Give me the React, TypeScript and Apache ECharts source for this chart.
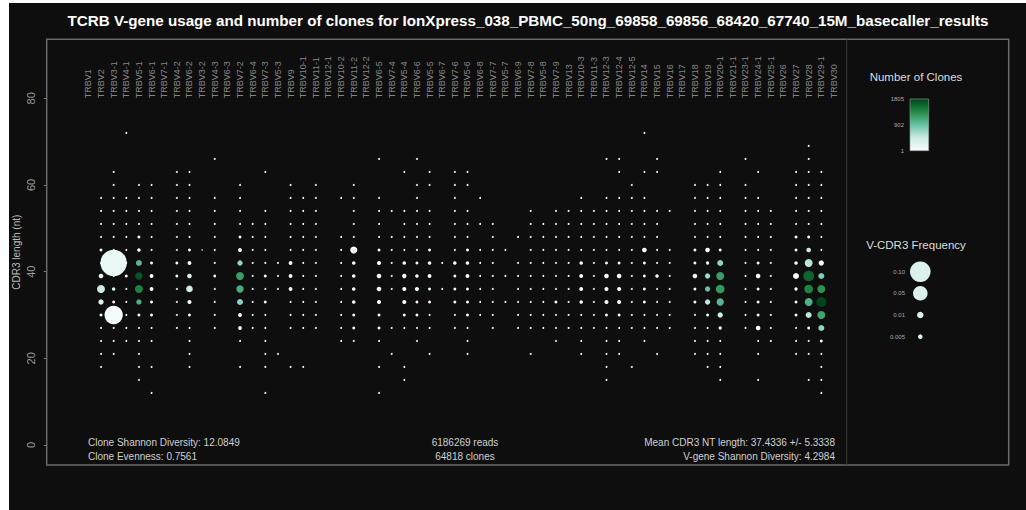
import React, { useEffect, useRef } from 'react';
import * as echarts from 'echarts';

const genes = [
  'TRBV1', 'TRBV2', 'TRBV3-1', 'TRBV4-1', 'TRBV5-1', 'TRBV6-1', 'TRBV7-1', 'TRBV4-2', 'TRBV6-2', 'TRBV3-2',
  'TRBV4-3', 'TRBV6-3', 'TRBV7-2', 'TRBV6-4', 'TRBV7-3', 'TRBV5-3', 'TRBV9', 'TRBV10-1', 'TRBV11-1', 'TRBV12-1',
  'TRBV10-2', 'TRBV11-2', 'TRBV12-2', 'TRBV6-5', 'TRBV7-4', 'TRBV5-4', 'TRBV6-6', 'TRBV5-5', 'TRBV6-7', 'TRBV7-6',
  'TRBV5-6', 'TRBV6-8', 'TRBV7-7', 'TRBV5-7', 'TRBV6-9', 'TRBV7-8', 'TRBV5-8', 'TRBV7-9', 'TRBV13', 'TRBV10-3',
  'TRBV11-3', 'TRBV12-3', 'TRBV12-4', 'TRBV12-5', 'TRBV14', 'TRBV15', 'TRBV16', 'TRBV17', 'TRBV18', 'TRBV19',
  'TRBV20-1', 'TRBV21-1', 'TRBV23-1', 'TRBV24-1', 'TRBV25-1', 'TRBV26', 'TRBV27', 'TRBV28', 'TRBV29-1', 'TRBV30',
];

// rare V-CDR3 combinations (all drawn as the same tiny white dot)
const tinyFreq = 0.0009;
const tinyClones = 5;
const tinyDots: Record<string, number[]> = {
  'TRBV2': [18, 21, 24, 27, 42, 48, 51, 54, 57],
  'TRBV3-1': [21, 24, 27, 39, 45, 48, 51, 54, 57, 60, 63],
  'TRBV4-1': [24, 27, 30, 33, 36, 42, 45, 48, 51, 54, 57, 72],
  'TRBV5-1': [15, 18, 21, 24, 27, 51, 54, 57, 60],
  'TRBV6-1': [12, 18, 24, 27, 45, 48, 51, 54, 57, 60],
  'TRBV4-2': [27, 30, 33, 36, 45, 48, 51, 54, 57, 60, 63],
  'TRBV6-2': [18, 21, 24, 27, 48, 51, 54, 57, 60, 63],
  'TRBV4-3': [27, 30, 33, 36, 42, 45, 48, 51, 54, 57, 66],
  'TRBV7-2': [18, 24, 51, 54, 57, 60],
  'TRBV6-4': [27, 30, 33, 36, 39, 42, 45, 48, 51],
  'TRBV7-3': [12, 18, 21, 24, 27, 30, 36, 42, 45, 48, 51, 54, 63],
  'TRBV5-3': [21, 36, 39, 42],
  'TRBV9': [18, 27, 30, 33, 45, 48, 51, 54, 57, 60],
  'TRBV10-1': [18, 27, 30, 33, 36, 39, 42, 45, 48, 51, 54, 57],
  'TRBV11-1': [27, 30, 33, 36, 39, 42, 45, 48, 51, 54, 57, 60],
  'TRBV10-2': [24, 27, 30, 33, 36, 39, 42, 45, 48, 57],
  'TRBV11-2': [24, 48, 51, 54, 57, 60],
  'TRBV6-5': [12, 18, 24, 48, 51, 54, 57, 66],
  'TRBV7-4': [21, 27, 36, 39, 42, 45, 48, 54],
  'TRBV5-4': [15, 18, 27, 45, 48, 51, 54, 63],
  'TRBV6-6': [24, 27, 45, 48, 51, 54, 57, 60, 66],
  'TRBV5-5': [21, 27, 30, 48, 51, 54, 60, 63],
  'TRBV6-7': [36, 42],
  'TRBV7-6': [27, 30, 45, 48, 51, 54, 57, 60, 63],
  'TRBV5-6': [21, 24, 27, 48, 51, 54, 60, 63],
  'TRBV6-8': [30, 33, 36, 39, 42, 45, 51, 57],
  'TRBV7-7': [27, 30, 33, 36, 39, 42, 45, 48, 51],
  'TRBV5-7': [33, 39, 45],
  'TRBV6-9': [27, 30, 33, 36, 39, 42, 48],
  'TRBV7-8': [21, 27, 30, 33, 36, 39, 42, 45, 48, 51, 54],
  'TRBV5-8': [27, 30, 33, 36, 39, 42, 45, 48, 51],
  'TRBV7-9': [24, 27, 30, 36, 39, 42, 45, 48, 51, 54],
  'TRBV13': [27, 30, 33, 36, 39, 42, 45, 48, 51, 54],
  'TRBV10-3': [21, 24, 27, 30, 45, 48, 51, 54, 57],
  'TRBV11-3': [27, 30, 33, 36, 39, 42, 45, 48, 51, 54],
  'TRBV12-3': [15, 18, 21, 24, 27, 45, 48, 51, 54, 57, 66],
  'TRBV12-4': [21, 24, 27, 45, 48, 51, 54, 57, 63, 66],
  'TRBV12-5': [18, 27, 30, 33, 36, 39, 42, 45, 48, 51, 54, 57, 60],
  'TRBV14': [24, 27, 30, 48, 51, 54, 57, 63, 72],
  'TRBV15': [21, 27, 30, 33, 36, 42, 45, 48, 51, 54, 63, 66],
  'TRBV16': [27, 30, 33, 36, 39, 42, 45, 54],
  'TRBV18': [21, 24, 27, 30, 48, 51, 54, 57, 60],
  'TRBV19': [18, 21, 24, 27, 48, 51, 54, 57, 60],
  'TRBV20-1': [15, 18, 21, 24, 48, 51, 54, 57, 60, 63],
  'TRBV23-1': [27, 30, 33, 36, 39, 42, 45, 48, 51, 54, 57, 60, 66],
  'TRBV24-1': [15, 21, 24, 45, 48, 51, 54, 57, 63],
  'TRBV25-1': [24, 27, 30, 33, 36, 39, 42, 45, 48, 51, 54],
  'TRBV27': [21, 24, 27, 51, 54, 57, 60, 63],
  'TRBV28': [15, 21, 24, 51, 54, 57, 60, 63, 66, 69],
  'TRBV29-1': [12, 15, 18, 21, 45, 48, 51, 54, 57, 60, 63],
};

// [gene, CDR3 length (nt), V-CDR3 frequency, number of clones]
const sizedDots: [string, number, number, number][] = [
  ['TRBV2', 45, 0.002, 20], ['TRBV2', 39, 0.0051, 250], ['TRBV2', 36, 0.015, 450], ['TRBV2', 33, 0.0067, 280], ['TRBV2', 30, 0.0021, 30],
  ['TRBV3-1', 42, 0.165, 150], ['TRBV3-1', 36, 0.003, 400], ['TRBV3-1', 33, 0.002, 20], ['TRBV3-1', 30, 0.079, 30],
  ['TRBV4-1', 39, 0.002, 20],
  ['TRBV5-1', 48, 0.002, 20], ['TRBV5-1', 45, 0.003, 40], ['TRBV5-1', 42, 0.0085, 1000], ['TRBV5-1', 39, 0.0127, 1700],
  ['TRBV5-1', 36, 0.015, 1400], ['TRBV5-1', 33, 0.0067, 1050], ['TRBV5-1', 30, 0.002, 30],
  ['TRBV6-1', 42, 0.002, 20], ['TRBV6-1', 39, 0.0034, 30], ['TRBV6-1', 36, 0.0034, 40], ['TRBV6-1', 33, 0.002, 20], ['TRBV6-1', 30, 0.002, 20],
  ['TRBV4-2', 42, 0.002, 20], ['TRBV4-2', 39, 0.002, 20],
  ['TRBV6-2', 45, 0.002, 20], ['TRBV6-2', 42, 0.0034, 40], ['TRBV6-2', 39, 0.005, 300], ['TRBV6-2', 36, 0.0104, 420], ['TRBV6-2', 33, 0.004, 60], ['TRBV6-2', 30, 0.002, 20],
  ['TRBV3-2', 45, 0.0005, 5],
  ['TRBV4-3', 39, 0.0018, 20],
  ['TRBV7-2', 48, 0.002, 20], ['TRBV7-2', 45, 0.0034, 40], ['TRBV7-2', 42, 0.0067, 700], ['TRBV7-2', 39, 0.015, 1200],
  ['TRBV7-2', 36, 0.0127, 1100], ['TRBV7-2', 33, 0.0085, 720], ['TRBV7-2', 30, 0.0034, 30], ['TRBV7-2', 27, 0.0034, 20],
  ['TRBV7-3', 39, 0.002, 20], ['TRBV7-3', 33, 0.002, 20],
  ['TRBV9', 42, 0.0034, 40], ['TRBV9', 39, 0.0034, 40], ['TRBV9', 36, 0.0034, 40],
  ['TRBV11-2', 45, 0.012, 30], ['TRBV11-2', 42, 0.003, 30], ['TRBV11-2', 39, 0.003, 30], ['TRBV11-2', 36, 0.003, 30],
  ['TRBV11-2', 33, 0.003, 30], ['TRBV11-2', 30, 0.002, 20], ['TRBV11-2', 27, 0.002, 20],
  ['TRBV6-5', 45, 0.002, 20], ['TRBV6-5', 42, 0.004, 40], ['TRBV6-5', 39, 0.005, 150], ['TRBV6-5', 36, 0.005, 100],
  ['TRBV6-5', 33, 0.004, 40], ['TRBV6-5', 30, 0.002, 20], ['TRBV6-5', 27, 0.002, 20],
  ['TRBV5-4', 42, 0.003, 30], ['TRBV5-4', 39, 0.0045, 100], ['TRBV5-4', 36, 0.004, 40], ['TRBV5-4', 33, 0.004, 40], ['TRBV5-4', 30, 0.002, 20],
  ['TRBV6-6', 42, 0.002, 20], ['TRBV6-6', 39, 0.003, 30], ['TRBV6-6', 36, 0.004, 80], ['TRBV6-6', 33, 0.002, 20], ['TRBV6-6', 30, 0.002, 20],
  ['TRBV5-5', 45, 0.002, 20], ['TRBV5-5', 42, 0.003, 30], ['TRBV5-5', 39, 0.0035, 40], ['TRBV5-5', 36, 0.002, 20], ['TRBV5-5', 33, 0.002, 20],
  ['TRBV7-6', 42, 0.003, 30], ['TRBV7-6', 39, 0.002, 20], ['TRBV7-6', 36, 0.002, 20], ['TRBV7-6', 33, 0.002, 20],
  ['TRBV5-6', 45, 0.002, 20], ['TRBV5-6', 42, 0.003, 30], ['TRBV5-6', 39, 0.0035, 40], ['TRBV5-6', 36, 0.002, 20],
  ['TRBV5-6', 33, 0.002, 20], ['TRBV5-6', 30, 0.002, 20],
  ['TRBV7-9', 33, 0.002, 20],
  ['TRBV10-3', 42, 0.003, 30], ['TRBV10-3', 39, 0.0035, 40], ['TRBV10-3', 36, 0.0035, 40], ['TRBV10-3', 33, 0.003, 30],
  ['TRBV12-3', 42, 0.002, 20], ['TRBV12-3', 39, 0.005, 60], ['TRBV12-3', 36, 0.004, 40], ['TRBV12-3', 33, 0.004, 40], ['TRBV12-3', 30, 0.002, 20],
  ['TRBV12-4', 42, 0.002, 20], ['TRBV12-4', 39, 0.005, 60], ['TRBV12-4', 36, 0.004, 40], ['TRBV12-4', 33, 0.004, 40], ['TRBV12-4', 30, 0.002, 20],
  ['TRBV14', 45, 0.005, 40], ['TRBV14', 42, 0.002, 20], ['TRBV14', 39, 0.002, 20], ['TRBV14', 36, 0.002, 20], ['TRBV14', 33, 0.002, 20],
  ['TRBV15', 39, 0.003, 30],
  ['TRBV18', 45, 0.002, 20], ['TRBV18', 42, 0.002, 20], ['TRBV18', 39, 0.005, 200], ['TRBV18', 36, 0.002, 20], ['TRBV18', 33, 0.002, 20],
  ['TRBV19', 45, 0.005, 40], ['TRBV19', 42, 0.0025, 200], ['TRBV19', 39, 0.0067, 650], ['TRBV19', 36, 0.0067, 900],
  ['TRBV19', 33, 0.0067, 500], ['TRBV19', 30, 0.002, 20],
  ['TRBV20-1', 45, 0.002, 20], ['TRBV20-1', 42, 0.0085, 700], ['TRBV20-1', 39, 0.015, 1200], ['TRBV20-1', 36, 0.0177, 1250],
  ['TRBV20-1', 33, 0.0127, 1000], ['TRBV20-1', 30, 0.0067, 450], ['TRBV20-1', 27, 0.0025, 30],
  ['TRBV24-1', 42, 0.002, 20], ['TRBV24-1', 39, 0.005, 40], ['TRBV24-1', 36, 0.002, 20], ['TRBV24-1', 33, 0.002, 20],
  ['TRBV24-1', 30, 0.002, 20], ['TRBV24-1', 27, 0.005, 40],
  ['TRBV27', 48, 0.002, 20], ['TRBV27', 45, 0.002, 20], ['TRBV27', 42, 0.003, 30], ['TRBV27', 39, 0.0085, 60],
  ['TRBV27', 36, 0.0025, 20], ['TRBV27', 33, 0.002, 20], ['TRBV27', 30, 0.002, 20],
  ['TRBV28', 48, 0.002, 20], ['TRBV28', 45, 0.005, 450], ['TRBV28', 42, 0.015, 550], ['TRBV28', 39, 0.0267, 1600],
  ['TRBV28', 36, 0.0177, 1400], ['TRBV28', 33, 0.015, 1050], ['TRBV28', 30, 0.0085, 500], ['TRBV28', 27, 0.002, 30],
  ['TRBV29-1', 42, 0.0067, 60], ['TRBV29-1', 39, 0.0085, 800], ['TRBV29-1', 36, 0.015, 1300], ['TRBV29-1', 33, 0.0235, 1805],
  ['TRBV29-1', 30, 0.015, 1150], ['TRBV29-1', 27, 0.0085, 700], ['TRBV29-1', 24, 0.002, 20],
];

const colorStops = ['#f7fcfd', '#ccece6', '#66c2a4', '#238b45', '#00441b'];
const cloneRange = [1, 1805];
const cloneTicks = [1805, 902, 1];
const freqLegend = [0.1, 0.05, 0.01, 0.005];
const freqLegendLabels = ['0.10', '0.05', '0.01', '0.005'];
const yTicks = [0, 20, 40, 60, 80];
const geneLabelY = 80;
const yAxisTitle = 'CDR3 length (nt)';
const statsLeft = ['Clone Shannon Diversity: 12.0849', 'Clone Evenness: 0.7561'];
const statsCenter = ['6186269 reads', '64818 clones'];
const statsRight = ['Mean CDR3 NT length: 37.4336 +/- 5.3338', 'V-gene Shannon Diversity: 4.2984'];
const titleText =
  'TCRB V-gene usage and number of clones for IonXpress_038_PBMC_50ng_69858_69856_68420_67740_15M_basecaller_results';

const FONT = '"Liberation Sans", Arial, Helvetica, sans-serif';
const BG = '#0e0e0e';
const SIZE_K = 65.2; // symbol diameter per sqrt(frequency)
const symSize = (f: number) => SIZE_K * Math.sqrt(f);

export default function App() {
  const ref = useRef<HTMLDivElement>(null);
  useEffect(() => {
    if (!ref.current) return;
    const chart = echarts.init(ref.current, undefined, { renderer: 'svg' });

    const sized = sizedDots.map(([g, nt, f, c]) => [genes.indexOf(g), nt, f, c]);
    const tiny: number[][] = [];
    Object.keys(tinyDots).forEach((g) => {
      tinyDots[g].forEach((nt) => tiny.push([genes.indexOf(g), nt, tinyFreq, tinyClones]));
    });

    // layout (px, chart-local)
    const gridL = 37.7, gridT = 36.3, gridW = 800, gridH = 425.7;
    const frameR = 999.7, frameB = gridT + gridH;
    const sepX = gridL + gridW;

    const barX = 901, barY = 96, barW = 18.7, barH = 51.7;
    const gradStops = colorStops.map((c, i) => ({ offset: i / (colorStops.length - 1), color: c }));
    const legendY = [268.7, 290.3, 312, 333.7];

    const graphics: any[] = [
      { type: 'rect', shape: { x: gridL, y: gridT, width: frameR - gridL, height: frameB - gridT }, style: { fill: 'none', stroke: '#6a6a6a', lineWidth: 1.5 }, z: 10 },
      { type: 'line', shape: { x1: sepX, y1: gridT, x2: sepX, y2: frameB }, style: { stroke: '#3a3a3a', lineWidth: 1 }, z: 10 },
      { type: 'text', x: 519, y: 17, style: { text: titleText, fill: '#ffffff', font: `bold 15.2px ${FONT}`, textAlign: 'center', textVerticalAlign: 'middle' } },
      {
        type: 'text', x: 7, y: gridT + gridH / 2, rotation: Math.PI / 2,
        style: { text: yAxisTitle, fill: '#bbbbbb', font: `10px ${FONT}`, textAlign: 'center', textVerticalAlign: 'middle' },
      },
      { type: 'text', x: 79, y: 439.7, style: { text: statsLeft[0], fill: '#d0d0d0', font: `10px ${FONT}`, textAlign: 'left', textVerticalAlign: 'middle' } },
      { type: 'text', x: 79, y: 453, style: { text: statsLeft[1], fill: '#d0d0d0', font: `10px ${FONT}`, textAlign: 'left', textVerticalAlign: 'middle' } },
      { type: 'text', x: 456, y: 439.7, style: { text: statsCenter[0], fill: '#d0d0d0', font: `10px ${FONT}`, textAlign: 'center', textVerticalAlign: 'middle' } },
      { type: 'text', x: 456, y: 453, style: { text: statsCenter[1], fill: '#d0d0d0', font: `10px ${FONT}`, textAlign: 'center', textVerticalAlign: 'middle' } },
      { type: 'text', x: 826, y: 439.7, style: { text: statsRight[0], fill: '#d0d0d0', font: `10px ${FONT}`, textAlign: 'right', textVerticalAlign: 'middle' } },
      { type: 'text', x: 826, y: 453, style: { text: statsRight[1], fill: '#d0d0d0', font: `10px ${FONT}`, textAlign: 'right', textVerticalAlign: 'middle' } },
      // colour legend
      { type: 'text', x: 907, y: 74.3, style: { text: 'Number of Clones', fill: '#dddddd', font: `11.5px ${FONT}`, textAlign: 'center', textVerticalAlign: 'middle' } },
      {
        type: 'rect', shape: { x: barX, y: barY, width: barW, height: barH },
        style: { fill: { type: 'linear', x: 0, y: 1, x2: 0, y2: 0, colorStops: gradStops }, stroke: '#9a9a9a', lineWidth: 0.6 },
      },
      ...cloneTicks.map((v) => ({
        type: 'text', x: barX - 6, y: barY + barH - ((v - cloneRange[0]) / (cloneRange[1] - cloneRange[0])) * barH,
        style: { text: String(v), fill: '#aaaaaa', font: `6px ${FONT}`, textAlign: 'right', textVerticalAlign: 'middle' },
      })),
      // size legend
      { type: 'text', x: 907, y: 242, style: { text: 'V-CDR3 Frequency', fill: '#dddddd', font: `11.5px ${FONT}`, textAlign: 'center', textVerticalAlign: 'middle' } },
      ...freqLegend.map((f, i) => ({
        type: 'circle', shape: { cx: 911.3, cy: legendY[i], r: symSize(f) / 2 },
        style: { fill: '#dcf1ee' },
      })),
      ...freqLegendLabels.map((t, i) => ({
        type: 'text', x: 896, y: legendY[i],
        style: { text: t, fill: '#aaaaaa', font: `6px ${FONT}`, textAlign: 'right', textVerticalAlign: 'middle' },
      })),
    ];

    chart.setOption({
      animation: false,
      backgroundColor: BG,
      textStyle: { fontFamily: FONT },
      grid: { left: gridL, top: gridT, width: gridW, height: gridH, containLabel: false, outerBoundsMode: 'none' },
      xAxis: { type: 'value', min: -3.297, max: 60.01, show: false },
      yAxis: {
        type: 'value', min: -4.62, max: 93.62,
        axisLine: { show: false, onZero: false },
        splitLine: { show: false },
        axisTick: { show: true, length: 3, lineStyle: { color: '#777777' }, customValues: yTicks },
        axisLabel: { rotate: 90, color: '#9a9a9a', fontSize: 11, margin: 10, customValues: yTicks, fontFamily: FONT },
      },
      visualMap: {
        show: false, type: 'continuous', dimension: 3, min: cloneRange[0], max: cloneRange[1],
        seriesIndex: [0, 1], inRange: { color: colorStops },
      },
      series: [
        {
          type: 'scatter', data: sized, symbol: 'circle',
          symbolSize: (v: number[]) => symSize(v[2]),
          itemStyle: { opacity: 1, borderWidth: 0 },
        },
        {
          type: 'scatter', data: tiny, symbol: 'circle',
          symbolSize: (v: number[]) => symSize(v[2]),
          itemStyle: { opacity: 1, borderWidth: 0 },
        },
        {
          type: 'scatter', data: genes.map((g, i) => [i, geneLabelY]), symbolSize: 0,
          itemStyle: { color: 'transparent' },
          label: {
            show: true, position: 'inside', rotate: 90, align: 'left', verticalAlign: 'middle',
            formatter: (p: any) => genes[p.dataIndex], color: '#a8a8a8', fontSize: 9, fontFamily: FONT,
          },
        },
      ],
      graphic: graphics,
    });
    return () => chart.dispose();
  }, []);
  return (
    <div
      ref={ref}
      style={{ position: 'absolute', left: 9, top: 3, width: 1017, height: 507, background: BG }}
    />
  );
}
